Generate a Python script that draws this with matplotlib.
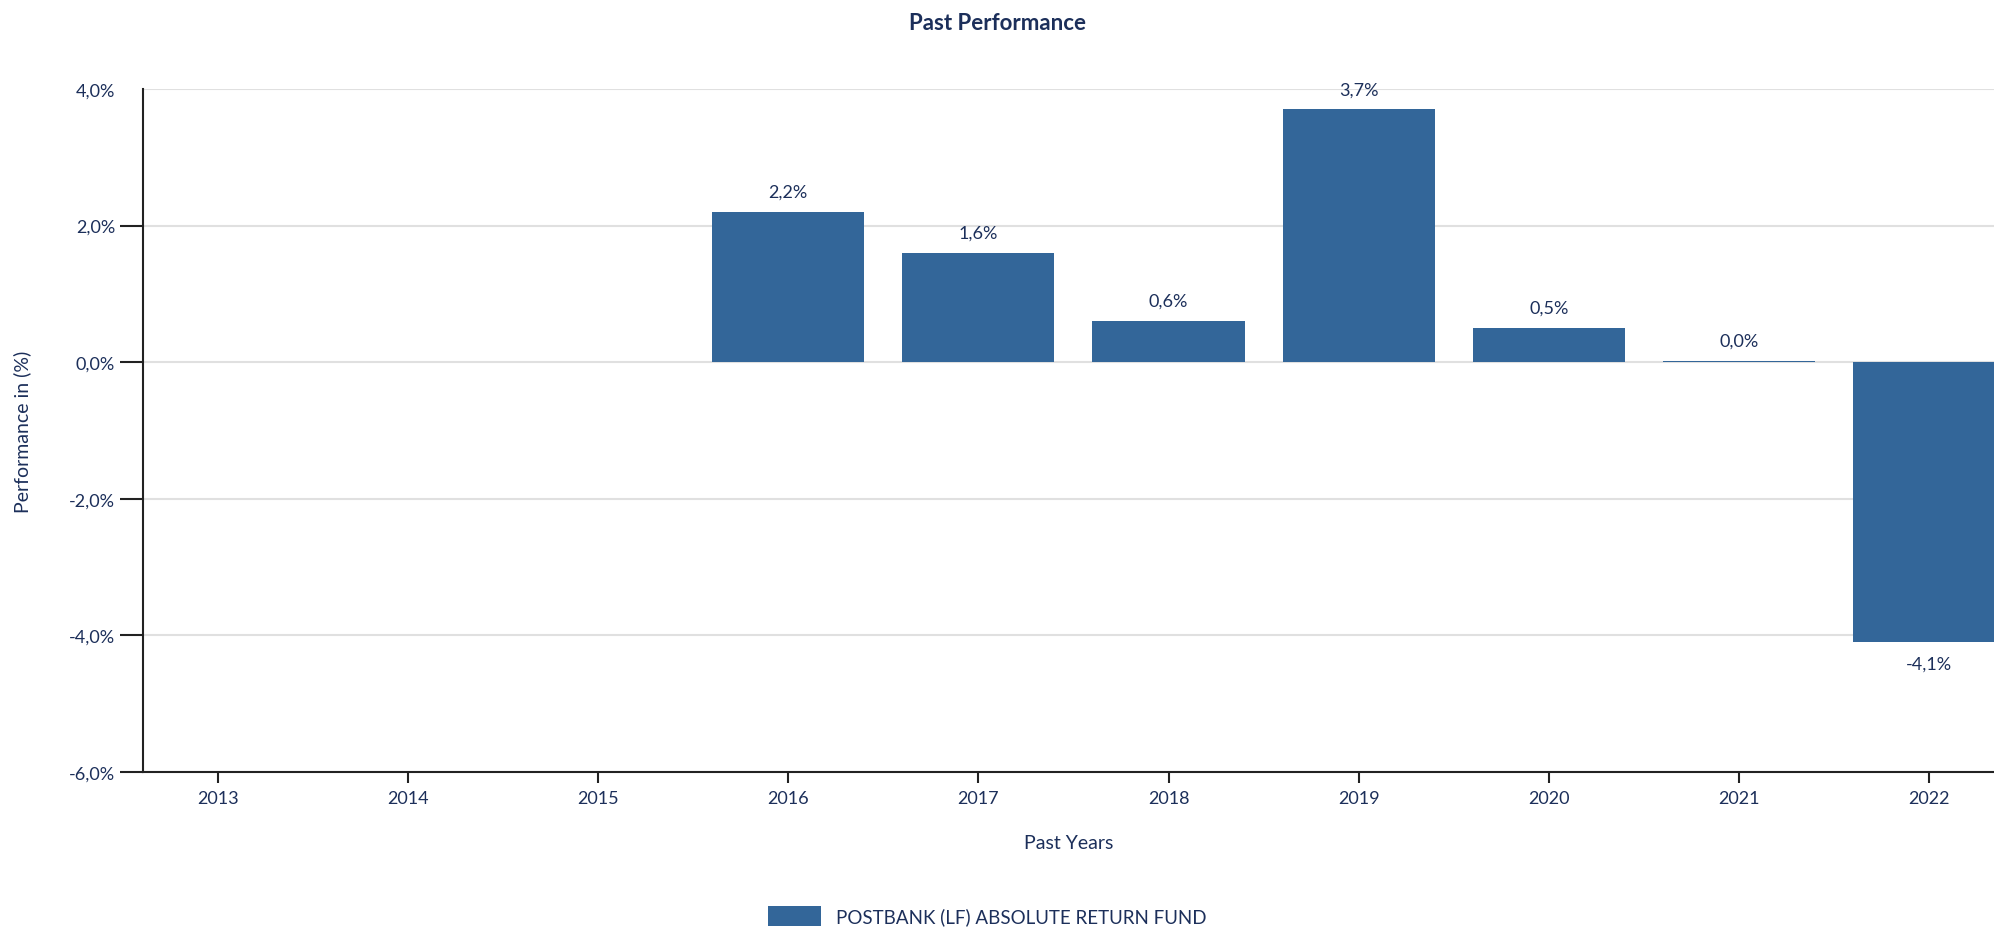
import numpy as np
import matplotlib
matplotlib.use('Agg')
import matplotlib.pyplot as plt

years = ['2013', '2014', '2015', '2016', '2017', '2018', '2019', '2020', '2021', '2022']
perf = [np.nan, np.nan, np.nan, 2.2, 1.6, 0.6, 3.7, 0.5, 0.02, -4.1]
bar_labels = ['', '', '', '2,2%', '1,6%', '0,6%', '3,7%', '0,5%', '0,0%', '-4,1%']
yticks = [-6, -4, -2, 0, 2, 4]
ytick_labels = ['-6,0%', '-4,0%', '-2,0%', '0,0%', '2,0%', '4,0%']
fund_name = 'POSTBANK (LF) ABSOLUTE RETURN FUND'

TXT = '#1c2f5a'
BAR = '#336699'

plt.rcParams['font.family'] = ['Lato', 'DejaVu Sans']

fig = plt.figure(figsize=(19.94, 9.28), dpi=100)
ax = fig.add_axes([143 / 1994, 1 - 773 / 928, 1 - 143 / 1994, (773 - 90) / 928])

x = np.arange(len(years))
bars = ax.bar(x, perf, width=0.8, color=BAR, label=fund_name, zorder=3)

for xi, v, lab in zip(x, perf, bar_labels):
    if np.isnan(v):
        continue
    if v >= 0:
        ax.text(xi, v + 0.18, lab, ha='center', va='bottom', fontsize=13, color=TXT)
    else:
        ax.text(xi, v - 0.2, lab, ha='center', va='top', fontsize=13, color=TXT)

ax.set_ylim(-6, 4)
ax.set_xlim(-0.394, 9.342)
ax.set_yticks(yticks)
ax.set_yticklabels(ytick_labels, fontsize=13, color=TXT)
ax.set_xticks(x)
ax.set_xticklabels(years, fontsize=13, color=TXT)
ax.tick_params(axis='y', length=16.5, width=1.5, color='#222222', pad=3.5)
ax.tick_params(axis='x', length=8, width=1.5, color='#222222', pad=5)
ax.yaxis.get_major_ticks()[-1].tick1line.set_visible(False)
ax.yaxis.grid(True, color='#e0e0e0', linewidth=1.5, zorder=0)
ax.set_axisbelow(True)

for s in ['top', 'right']:
    ax.spines[s].set_visible(False)
for s in ['left', 'bottom']:
    ax.spines[s].set_color('#222222')
    ax.spines[s].set_linewidth(1.5)

ax.set_xlabel('Past Years', fontsize=14, color=TXT, labelpad=20)
fig.text(22 / 1994, 1 - 432 / 928, 'Performance in (%)', rotation=90, ha='center', va='center',
         fontsize=14, color=TXT)
fig.text(0.5, 1 - 23 / 928, 'Past Performance', ha='center', va='center', fontsize=16,
         fontweight='bold', color=TXT)

fig.legend(handles=[bars], labels=[fund_name], loc='center', bbox_to_anchor=(0.495, 1 - 917 / 928),
           frameon=False, fontsize=13.5, labelcolor=TXT, handlelength=2.8, handleheight=1.2)

fig.savefig('out.png', dpi=100, facecolor='white')
